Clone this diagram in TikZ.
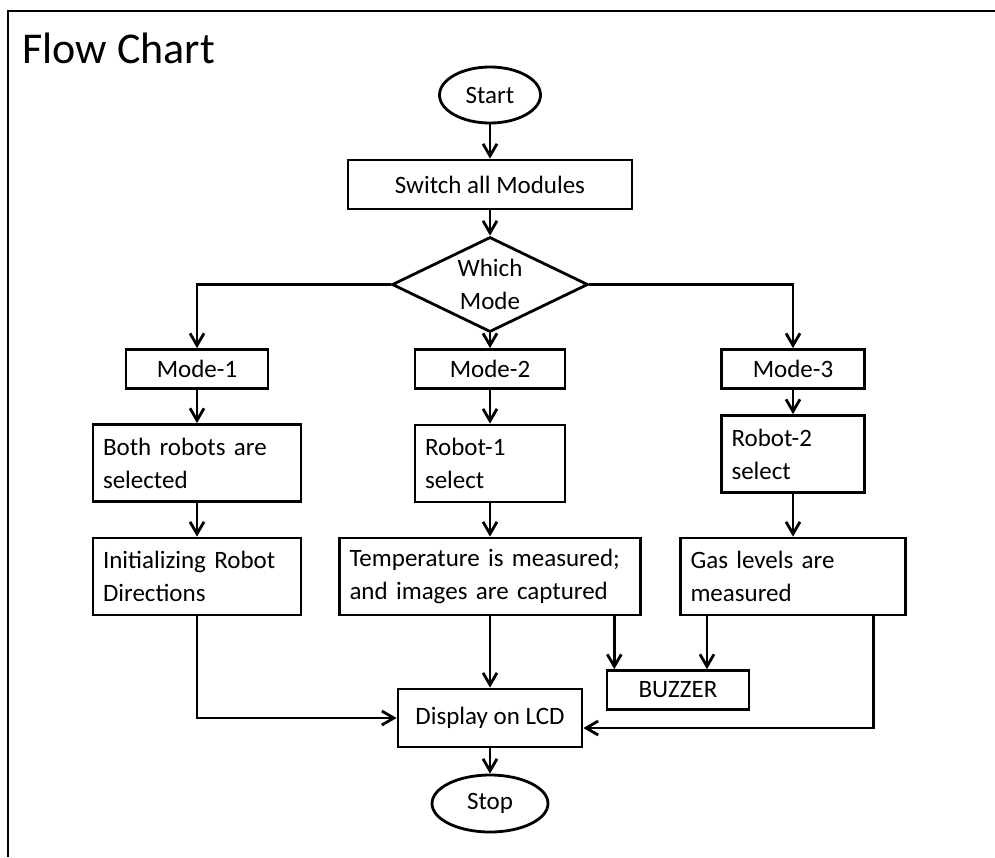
\documentclass[tikz,border=0pt]{standalone}
\usepackage{fontspec}
\setmainfont{Carlito}
\usetikzlibrary{shapes.geometric,arrows.meta,calc}

\begin{document}
\begin{tikzpicture}[x=0.5pt,y=-0.5pt,
    line width=1.4pt,
    font=\fontsize{12.5}{16.5}\selectfont,
    flowbox/.style={draw, rectangle, inner sep=0pt},
    textbox/.style={draw, rectangle, align=left, inner xsep=5pt, inner ysep=0pt, minimum height=38.5pt},
    term/.style={draw, ellipse, inner sep=0pt},
    choice/.style={draw, diamond, aspect=2, inner sep=0pt, align=center},
    arr/.style={-{Straight Barb[length=6pt,width=7pt]}}]
    \useasboundingbox (0,0) rectangle (995,857);
    \draw (8,857) -- (8,11) -- (995,11);
    \node[anchor=base west, inner sep=0pt, font=\fontsize{22}{26}\selectfont] (title) at (21,63) {Flow Chart};

    \node[term, minimum width=50.5pt, minimum height=28pt] (start) at (490,95) {Start};
    \node[flowbox, minimum width=142pt, minimum height=24.5pt] (switch) at (490,184.5) {Switch all Modules};
    \node[choice, minimum width=98pt, minimum height=47.5pt] (mode) at (490,284.5) {Which\\Mode};

    \node[flowbox, minimum width=71pt, minimum height=19.5pt] (mode1) at (197,369) {Mode-1};
    \node[flowbox, minimum width=75pt, minimum height=19.5pt] (mode2) at (490,369) {Mode-2};
    \node[flowbox, minimum width=71.5pt, minimum height=19.5pt] (mode3) at (793,369) {Mode-3};

    \node[textbox, text width=94pt] (both) at (197,463) {Both robots are\\selected};
    \node[textbox, text width=65pt] (robot1) at (490,463.5) {Robot-1\\select};
    \node[textbox, text width=61.5pt] (robot2) at (793,454) {Robot-2\\select};

    \node[textbox, text width=94pt] (init) at (197,576.5) {Initializing Robot\\Directions};
    \node[textbox, text width=140.5pt] (temp) at (490,576.5) {Temperature is measured;\\and images are captured};
    \node[textbox, text width=102.5pt] (gas) at (793,576.5) {Gas levels are\\measured};

    \node[flowbox, minimum width=71pt, minimum height=19.5pt] (buzzer) at (678,690) {BUZZER};
    \node[flowbox, minimum width=92pt, minimum height=29pt] (display) at (490,718) {Display on LCD};
    \node[term, minimum width=58pt, minimum height=28.5pt] (stop) at (490,803.5) {Stop};

    \coordinate (bzl) at ($(buzzer.north west)!0.06!(buzzer.north east)$);
    \coordinate (bzr) at ($(buzzer.north west)!0.7!(buzzer.north east)$);
    \coordinate (gasr) at ($(gas.south west)!0.853!(gas.south east)$);

    \draw[arr] (start) -- (switch);
    \draw[arr] (switch) -- (mode);
    \draw[arr] (mode.west) -| (mode1);
    \draw[arr] (mode) -- (mode2);
    \draw[arr] (mode.east) -| (mode3);
    \draw[arr] (mode1) -- (both);
    \draw[arr] (mode2) -- (robot1);
    \draw[arr] (mode3) -- (robot2);
    \draw[arr] (both) -- (init);
    \draw[arr] (robot1) -- (temp);
    \draw[arr] (robot2) -- (gas);
    \draw[arr] (init) |- (display);
    \draw[arr] (temp) -- (display);
    \draw[arr] (temp.south -| bzl) -- (bzl);
    \draw[arr] (gas.south -| bzr) -- (bzr);
    \draw[arr] (gasr) |- ($(display.east)+(0,10)$);
    \draw[arr] (display) -- (stop);
\end{tikzpicture}
\end{document}
